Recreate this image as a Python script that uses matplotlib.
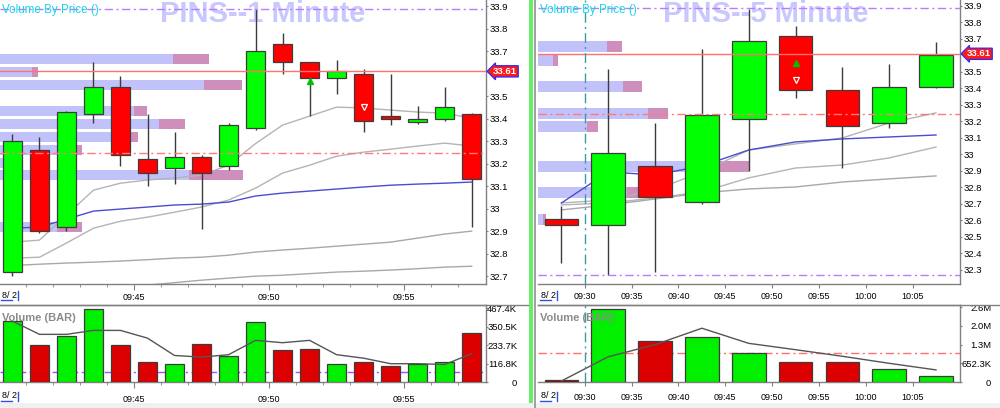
import matplotlib
matplotlib.use("Agg")
import matplotlib.pyplot as plt
from matplotlib.ticker import FixedLocator, FuncFormatter
from matplotlib.lines import Line2D
from matplotlib.patches import Rectangle
import matplotlib.transforms as mtransforms

plt.rcParams['font.family'] = ['Liberation Sans', 'DejaVu Sans']

# ---------------- 1-minute chart data ----------------
m1_time = ["09:40", "09:41", "09:42", "09:43", "09:44", "09:45", "09:46", "09:47", "09:48",
           "09:49", "09:50", "09:51", "09:52", "09:53", "09:54", "09:55", "09:56", "09:57"]
m1_open = [32.72, 33.26, 32.92, 33.42, 33.54, 33.22, 33.18, 33.23, 33.19,
           33.36, 33.73, 33.65, 33.58, 33.60, 33.41, 33.386, 33.40, 33.42]
m1_high = [33.33, 33.32, 33.435, 33.65, 33.59, 33.42, 33.34, 33.24, 33.38,
           33.885, 33.78, 33.65, 33.66, 33.62, 33.60, 33.456, 33.54, 33.423]
m1_low = [32.70, 32.89, 32.90, 33.38, 33.19, 33.10, 33.11, 32.91, 33.17,
          33.35, 33.60, 33.41, 33.51, 33.34, 33.37, 33.374, 33.39, 32.92]
m1_close = [33.30, 32.90, 33.43, 33.54, 33.24, 33.16, 33.23, 33.16, 33.37,
            33.70, 33.65, 33.58, 33.61, 33.39, 33.40, 33.398, 33.45, 33.13]
m1_volume_k = [386, 232, 289, 465, 232, 128, 111, 238, 167,
               378, 200, 209, 111, 128, 100, 111, 126, 310]
m1_volume_avg_k = [386, 302, 302, 327, 327, 278, 168, 158, 173,
                   264, 249, 264, 173, 151, 116, 116, 111, 179]
m1_ma_a = [32.851, 32.860, 32.971, 33.082, 33.113, 33.127, 33.136, 33.149, 33.193,
           33.289, 33.371, 33.411, 33.451, 33.447, 33.438, 33.429, 33.424, 33.402]
m1_ma_b = [32.780, 32.784, 32.847, 32.913, 32.944, 32.962, 32.984, 33.007, 33.038,
           33.091, 33.158, 33.193, 33.233, 33.251, 33.264, 33.278, 33.291, 33.278]
m1_ma_c = [32.747, 32.753, 32.758, 32.762, 32.767, 32.773, 32.780, 32.784, 32.793,
           32.807, 32.816, 32.824, 32.833, 32.842, 32.851, 32.869, 32.887, 32.900]
m1_ma_d = [32.593, 32.607, 32.620, 32.633, 32.647, 32.660, 32.671, 32.682, 32.691,
           32.700, 32.704, 32.711, 32.718, 32.722, 32.727, 32.733, 32.740, 32.744]
m1_vwap = [32.913, 32.918, 32.953, 32.989, 32.998, 33.007, 33.016, 33.020, 33.029,
           33.056, 33.069, 33.078, 33.087, 33.096, 33.104, 33.109, 33.113, 33.118]
m1_vbp_price = [33.664, 33.607, 33.549, 33.433, 33.376, 33.318, 33.260, 33.202, 33.149, 32.918]
m1_vbp_blue = [172, 32, 203, 133, 158, 127, 75, 10, 188, 57]
m1_vbp_pink = [36, 6, 38, 13, 26, 10, 7, 0, 54, 25]
m1_up_marks = [("09:51", 33.567)]
m1_dn_marks = [("09:53", 33.452)]
m1_price_ticks = [32.7, 32.8, 32.9, 33.0, 33.1, 33.2, 33.3, 33.4, 33.5, 33.7, 33.8, 33.9]
m1_vol_ticks_k = [0, 116.8, 233.7, 350.5, 467.4]
m1_vol_ticklabels = ["0", "116.8K", "233.7K", "350.5K", "467.4K"]
m1_vol_ref_k = 62

# ---------------- 5-minute chart data ----------------
m5_time = ["09:25", "09:30", "09:35", "09:40", "09:45", "09:50", "09:55", "10:00", "10:05"]
m5_open = [32.61, 32.57, 32.93, 32.71, 33.215, 33.72, 33.39, 33.19, 33.41]
m5_high = [32.69, 33.52, 33.19, 33.64, 33.88, 33.78, 33.53, 33.55, 33.68]
m5_low = [32.34, 32.27, 32.29, 32.70, 32.90, 33.34, 32.92, 33.16, 33.40]
m5_close = [32.57, 33.01, 32.74, 33.24, 33.69, 33.39, 33.17, 33.41, 33.60]
m5_volume_k = [60, 2553, 1440, 1580, 1008, 713, 702, 467, 211]
m5_volume_avg_k = [35, 878, 1300, 1871, 1345, 1124, 895, 650, 421]
m5_ma_a = [32.706, 32.724, 32.785, 32.894, 33.027, 33.064, 33.100, 33.191, 33.252]
m5_ma_b = [32.694, 32.706, 32.736, 32.773, 32.858, 32.918, 32.936, 32.979, 33.045]
m5_ma_c = [32.664, 32.694, 32.730, 32.767, 32.791, 32.803, 32.833, 32.852, 32.870]
m5_vwap = [32.706, 32.894, 32.876, 32.930, 33.027, 33.076, 33.094, 33.106, 33.118]
m5_vbp_price = [33.652, 33.570, 33.409, 33.248, 33.167, 32.927, 32.770, 32.606]
m5_vbp_blue = [69, 15, 85, 110, 49, 182, 89, 5]
m5_vbp_pink = [15, 5, 19, 20, 11, 29, 18, 3]
m5_up_marks = [("09:50", 33.556)]
m5_dn_marks = [("09:50", 33.452)]
m5_price_ticks = [32.3, 32.4, 32.5, 32.6, 32.7, 32.8, 32.9, 33.0, 33.1, 33.2, 33.3, 33.4, 33.5, 33.7, 33.8, 33.9]
m5_vol_ticks_k = [0, 652.3, 1304.6, 1956.9, 2609.2]
m5_vol_ticklabels = ["0", "652.3K", "1.3M", "2.0M", "2.6M"]
m5_vol_ref_k = 994
m5_cursor_time = "09:30"

last_price = 33.61
ref_level = 33.245
day_high = 33.885
day_low = 32.27

# ---------------- styling ----------------
W, H = 1000, 408
GREEN = '#00ff00'
RED = '#ff0000'
VGREEN = '#00f000'
VRED = '#dd0000'
EDGE = '#3c3c3c'
AXC = '#808080'
TXT = '#000000'
DASHDOT = (0, (6, 2.5, 1.5, 2.5))


def to_min(s):
    h, m = s.split(':')
    return int(h) * 60 + int(m)


def rect(x0, y0, x1, y1):
    return [x0 / W, 1 - y1 / H, (x1 - x0) / W, (y1 - y0) / H]


def fmt_time(v, pos=None):
    v = int(round(v))
    return f"{v // 60:02d}:{v % 60:02d}"


def fmt_price(v, pos=None):
    s = f"{v:.1f}"
    return s[:-2] if s.endswith('.0') else s


fig = plt.figure(figsize=(W / 100, H / 100), dpi=100)
fig.patch.set_facecolor('white')


def price_panel(x0, x1, times, bar_len, o, h, l, c, mas, vwap, vbp_p, vbp_b, vbp_k,
                vbp_h, ylim, xlim, yticks, title, upm, dnm, major, minor, longt):
    ax_v = fig.add_axes(rect(x0, 0, x1, 284))
    ax = fig.add_axes(rect(x0, 0, x1, 284), sharey=ax_v)
    ax.patch.set_alpha(0)
    ax_v.set_axis_off()
    # volume by price (behind everything)
    tot = [b + k for b, k in zip(vbp_b, vbp_k)]
    ax_v.set_xlim(0, 2.0 * max(tot))
    ax_v.barh(vbp_p, vbp_b, height=vbp_h, color='#c2c2fb', zorder=1)
    ax_v.barh(vbp_p, vbp_k, left=vbp_b, height=vbp_h, color='#cf8fbd', zorder=1)
    ax_v.text(0.54, 1 - 14.5 / 284, title, transform=ax_v.transAxes, ha='center', va='center',
              fontsize=21, fontweight='bold', color='#c8c8ff', zorder=0)

    t = [to_min(s) + bar_len / 2 for s in times]
    w = bar_len * 0.72
    for ma, col in mas:
        ax.plot(t, ma, color=col, lw=1.0, zorder=2)
    ax.plot(t, vwap, color='#4c4cd0', lw=1.0, zorder=2)
    cols = [GREEN if cc >= oo else RED for oo, cc in zip(o, c)]
    ax.vlines(t, l, h, colors=EDGE, lw=1.0, zorder=3)
    ax.bar(t, [abs(a - b) for a, b in zip(o, c)], width=w,
           bottom=[min(a, b) for a, b in zip(o, c)], color=cols, edgecolor=EDGE,
           linewidth=0.9, zorder=4)
    for s, p in upm:
        ax.plot(to_min(s) + bar_len / 2, p, marker='^', ms=4.5, color='#00c000', mec='#00c000', zorder=6)
    for s, p in dnm:
        ax.plot(to_min(s) + bar_len / 2, p, marker='v', ms=5, mfc='none', mec='white', mew=0.9, zorder=6)
    ax.axhline(last_price, color='#ff7070', lw=1.0, zorder=5)
    ax.axhline(ref_level, color='#ff7a7a', lw=1.0, ls=DASHDOT, zorder=5)
    ax.axhline(day_high, color='#b77cff', lw=1.0, ls=DASHDOT, zorder=5)
    ax.axhline(day_low, color='#b77cff', lw=1.0, ls=DASHDOT, zorder=5)

    ax.set_xlim(*xlim)
    ax.set_ylim(*ylim)
    ax.yaxis.tick_right()
    ax.yaxis.set_major_locator(FixedLocator(yticks))
    ax.yaxis.set_major_formatter(FuncFormatter(fmt_price))
    ax.tick_params(axis='y', length=1.5, color=AXC, pad=1, labelsize=6.8, labelcolor=TXT)
    ax.xaxis.set_major_locator(FixedLocator(major))
    ax.xaxis.set_major_formatter(FuncFormatter(fmt_time))
    ax.xaxis.set_minor_locator(FixedLocator(minor))
    ax.tick_params(axis='x', which='major', length=longt, color=AXC, pad=2.5,
                   labelsize=6.5, labelcolor=TXT)
    ax.tick_params(axis='x', which='minor', length=2, color=AXC)
    for sp in ('left', 'top'):
        ax.spines[sp].set_visible(False)
    for sp in ('right', 'bottom'):
        ax.spines[sp].set_color(AXC)
        ax.spines[sp].set_linewidth(1.0)
    tr = mtransforms.blended_transform_factory(ax.transAxes, ax.transData)
    tr = mtransforms.offset_copy(tr, fig=fig, x=7, y=0, units='dots')
    ax.text(1.0, last_price, f"{last_price:.2f}", transform=tr, ha='left', va='center',
            fontsize=6.8, color='white', fontweight='bold', zorder=30, clip_on=False,
            bbox=dict(boxstyle='larrow,pad=0.12', fc='#ff1a1a', ec='#2a2aff', lw=0.9))
    ax.text(2 / (x1 - x0), 1 - 10 / 284, "Volume By Price ()", transform=ax.transAxes,
            ha='left', va='center', fontsize=8.4, color='#18d6e6', zorder=10)
    return ax, t, w


def volume_panel(x0, x1, t, w, vols, avg, cols, ylim_top, ticks, labels, xlim, major, minor,
                 longt, ref, refcol):
    ax = fig.add_axes(rect(x0, 305, x1, 382))
    ax.bar(t, vols, width=w, color=cols, edgecolor=EDGE, linewidth=0.9, zorder=3)
    ax.plot(t, avg, color='#555555', lw=1.0, zorder=4)
    ax.axhline(ref, color=refcol, lw=1.0, ls=DASHDOT, zorder=2)
    ax.set_xlim(*xlim)
    ax.set_ylim(0, ylim_top)
    ax.yaxis.tick_right()
    ax.yaxis.set_major_locator(FixedLocator(ticks))
    ax.set_yticklabels(labels)
    ax.tick_params(axis='y', length=1.5, color=AXC, pad=21, labelsize=6.8, labelcolor=TXT)
    for lab in ax.get_yticklabels():
        lab.set_ha('right')
    ax.xaxis.set_major_locator(FixedLocator(major))
    ax.xaxis.set_major_formatter(FuncFormatter(fmt_time))
    ax.xaxis.set_minor_locator(FixedLocator(minor))
    ax.tick_params(axis='x', which='major', length=longt, color=AXC, pad=5,
                   labelsize=6.5, labelcolor=TXT)
    ax.tick_params(axis='x', which='minor', length=2, color=AXC)
    ax.spines['left'].set_visible(False)
    for sp in ('right', 'bottom', 'top'):
        ax.spines[sp].set_color(AXC)
        ax.spines[sp].set_linewidth(1.0)
    ax.text(2 / (x1 - x0), 1 - 13 / 77, "Volume (BAR)", transform=ax.transAxes, ha='left',
            va='center', fontsize=8, color='#8c8c8c', fontweight='bold', zorder=10)
    return ax


# ----- left (1 minute) -----
m1_xlim = (to_min("09:40") + 0.04, to_min("09:58") + 0.03)
m1_major = [to_min(s) for s in ("09:45", "09:50", "09:55")]
m1_minor = [to_min("09:40") + i for i in range(1, 18) if (to_min("09:40") + i) % 5 != 0]
axL, tL, wL = price_panel(0, 486, m1_time, 1, m1_open, m1_high, m1_low, m1_close,
                          [(m1_ma_a, '#b4b4b4'), (m1_ma_b, '#b4b4b4'), (m1_ma_c, '#a8a8a8'),
                           (m1_ma_d, '#a8a8a8')], m1_vwap,
                          m1_vbp_price, m1_vbp_blue, m1_vbp_pink, 0.044,
                          (32.665, 33.927), m1_xlim, m1_price_ticks, "PINS--1 Minute",
                          m1_up_marks, m1_dn_marks, m1_major, m1_minor, 4)
m1_cols = [VGREEN if c >= o else VRED for o, c in zip(m1_open, m1_close)]
axLv = volume_panel(0, 486, tL, wL, m1_volume_k, m1_volume_avg_k, m1_cols, 488,
                    m1_vol_ticks_k, m1_vol_ticklabels, m1_xlim, m1_major, m1_minor, 4,
                    m1_vol_ref_k, '#a050ff')

# ----- right (5 minute) -----
m5_xlim = (to_min("09:25"), to_min("10:10") + 0.06)
m5_major = [to_min(s) for s in ("09:30", "09:35", "09:40", "09:45", "09:50", "09:55", "10:00", "10:05")]
m5_long = [to_min(s) for s in ("09:30", "10:00")]
axR, tR, wR = price_panel(538, 960, m5_time, 5, m5_open, m5_high, m5_low, m5_close,
                          [(m5_ma_a, '#b4b4b4'), (m5_ma_b, '#b4b4b4'), (m5_ma_c, '#a8a8a8')],
                          m5_vwap, m5_vbp_price, m5_vbp_blue, m5_vbp_pink, 0.0667,
                          (32.215, 33.936), m5_xlim, m5_price_ticks, "PINS--5 Minute",
                          m5_up_marks, m5_dn_marks, m5_major, m5_long, 3)
axR.tick_params(axis='x', which='minor', length=6)
m5_cols = [VGREEN if c >= o else VRED for o, c in zip(m5_open, m5_close)]
m5_cols[0] = '#a00000'
axRv = volume_panel(538, 960, tR, wR, m5_volume_k, m5_volume_avg_k, m5_cols, 2679,
                    m5_vol_ticks_k, m5_vol_ticklabels, m5_xlim, m5_major, m5_long, 3,
                    m5_vol_ref_k, '#ff7070')
axRv.tick_params(axis='x', which='minor', length=6)
for a in (axR, axRv):
    a.axvline(to_min(m5_cursor_time), color='#3a9aa8', lw=1.0, ls=(0, (7, 3, 1.5, 3)), zorder=6)


# ----- decorations (frame, date labels) -----
def px(x, y):
    return x / W, 1 - y / H


for xs in ((0, 528), (538, 1000)):
    fig.add_artist(Line2D([xs[0] / W, xs[1] / W], [1 - 305 / H] * 2, color=AXC, lw=1.0))
fig.add_artist(Rectangle(px(529, 403), 4 / W, 403 / H, color='#66ee66', lw=0))
fig.add_artist(Line2D([534.5 / W] * 2, [0, 1], color='#909090', lw=1.2))
fig.add_artist(Rectangle((0, 0), 1, 5 / H, color='#f0f0f0', lw=0))
for x0 in (2, 541):
    for yy in (295, 396):
        fig.text(*px(x0, yy), "8/ 2", fontsize=6.5, color=TXT, ha='left', va='center')
        fig.add_artist(Line2D([(x0 - 1) / W, (x0 + 10) / W], [1 - (yy + 4.5) / H] * 2,
                              color='#3050e0', lw=1.0))
        fig.add_artist(Line2D([(x0 + 15.5) / W] * 2, [1 - (yy - 4) / H, 1 - (yy + 4.5) / H],
                              color='#3050e0', lw=1.0))

fig.savefig("out.png", dpi=100, facecolor='white')
